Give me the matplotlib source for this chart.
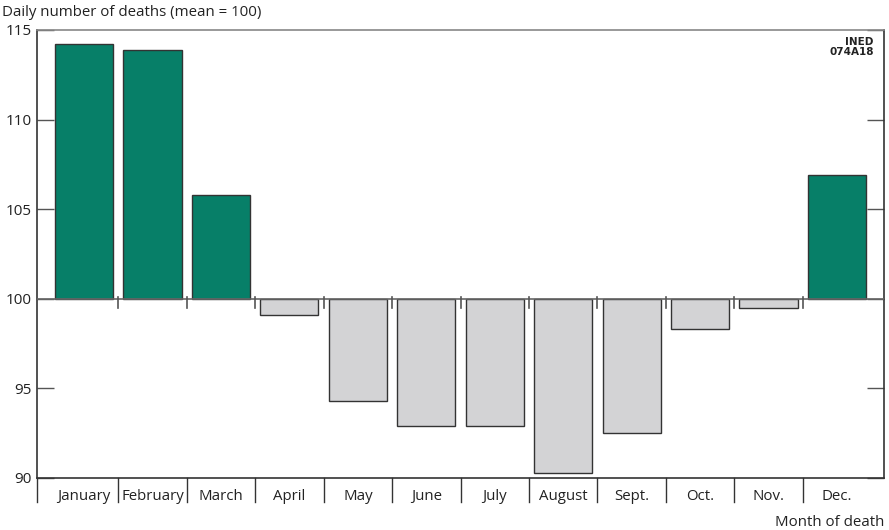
import numpy as np
import matplotlib.pyplot as plt

months = ['January', 'February', 'March', 'April', 'May', 'June', 'July',
          'August', 'Sept.', 'Oct.', 'Nov.', 'Dec.']
deaths = [114.2, 113.9, 105.8, 99.1, 94.3, 92.9, 92.9, 90.3, 92.5, 98.3, 99.5, 106.9]
yticks = [90, 95, 100, 105, 110, 115]

plt.rcParams['font.family'] = ['Open Sans', 'DejaVu Sans']

green = '#077f68'
grey = '#d3d3d5'
edge = '#333333'

fig = plt.figure(figsize=(8.89, 5.30), dpi=100)
ax = fig.add_axes([37 / 889, 1 - 478 / 530, 847 / 889, 448 / 530])

x = np.arange(len(months))
vals = np.array(deaths)
colors = [green if v >= 100 else grey for v in vals]
ax.bar(x, vals - 100, bottom=100, width=0.85, color=colors,
       edgecolor=edge, linewidth=1.0, zorder=2)

# baseline at mean = 100 with small separators
ax.axhline(100, color='#666666', linewidth=1.2, zorder=3)
trans = ax.get_xaxis_transform()
for b in x[:-1] + 0.5:
    ax.plot([b, b], [100.1, 99.5], color='#555555', linewidth=1.2, zorder=3)
    # month separators below the axis
    ax.plot([b, b], [0, -0.053], transform=trans, color='#333333',
            linewidth=1.0, clip_on=False)
ax.plot([-0.687, -0.687], [0, -0.053], transform=trans, color='#333333',
        linewidth=1.0, clip_on=False)

ax.set_xlim(-0.687, 11.687)
ax.set_ylim(90, 115)
ax.set_yticks(yticks)
ax.set_yticklabels([str(t) for t in yticks], fontsize=11, color='#222222')
ax.tick_params(axis='y', direction='in', length=12, width=1.0, color='#555555',
               right=True, pad=4)
ax.set_xticks(x)
ax.set_xticklabels(months, fontsize=10.8, color='#222222')
ax.tick_params(axis='x', length=0, pad=8)

for side in ['left', 'right', 'bottom']:
    ax.spines[side].set_color('#333333')
    ax.spines[side].set_linewidth(1.2)
ax.spines['top'].set_color('#888888')
ax.spines['top'].set_linewidth(1.2)

fig.text(2 / 889, 1 - 12 / 530, 'Daily number of deaths (mean = 100)',
         fontsize=10.8, color='#222222', va='center', ha='left')
fig.text(884 / 889, 1 - 522 / 530, 'Month of death', fontsize=10.8,
         color='#222222', va='center', ha='right')
ax.text(0.988, 0.985, 'INED\n074A18', transform=ax.transAxes, fontsize=7.5,
        fontweight='bold', ha='right', va='top', linespacing=1.0,
        family='Liberation Sans Narrow', color='#222222')

fig.savefig('out.png', dpi=100)
